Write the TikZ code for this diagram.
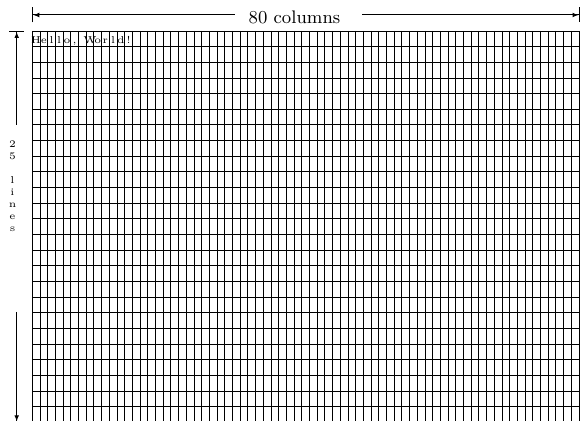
\documentclass[tikz,border=0pt]{standalone}
\usetikzlibrary{arrows.meta}
\begin{document}
\begin{tikzpicture}[x=0.5pt,y=-0.5pt,
  gridline/.style={line width=0.42pt,black},
  dimline/.style={line width=0.5pt,black},
  starttip/.style={{Bar[width=7.5pt]Latex[length=3pt,width=2.4pt]}-},
  endtip/.style={-{Latex[length=3pt,width=2.4pt]Bar[width=7.5pt]}},
  bigtext/.style={font=\fontsize{9.1}{11}\selectfont,inner sep=0pt},
  smalltext/.style={font=\fontsize{5}{6}\selectfont,inner sep=0pt}]
\useasboundingbox (0,0) rectangle (580,421);
% grid
\begin{scope}
  \clip (0,0) rectangle (580,421);
  \foreach \i in {0,...,80}
    \draw[gridline] ({32.3+7.7*\i},31) -- ({32.3+7.7*\i},422.3);
  \foreach \j in {0,...,25}
    \draw[gridline] (32.3,{31+15.65*\j}) -- (648.3,{31+15.65*\j});
\end{scope}
% text in first row
\foreach \ch [count=\i from 0] in {H,e,l,l,o,{,},{},W,o,r,l,d,!}
  \node[smalltext,anchor=base] (c\i) at ({32.3+7.7*(\i+0.5)},44) {\ch};
% top dimension
\coordinate (tl) at (32.3,15);
\coordinate (tr) at (579.5,15);
\coordinate (tgl) at (235,15);
\coordinate (tgr) at (362,15);
\node[bigtext,anchor=base] (cols) at (294.5,23.3) {80 columns};
\draw[dimline,starttip] (tl) -- (tgl);
\draw[dimline,endtip] (tgr) -- (tr);
% left dimension
\coordinate (lt) at (16.7,31);
\coordinate (lb) at (16.7,422.3);
\coordinate (lgt) at (16.7,125);
\coordinate (lgb) at (16.7,312);
\node[smalltext,align=center,anchor=north] (lines) at (12.5,140.5) {2\\5\\\mbox{}\\l\\i\\n\\e\\s};
\draw[dimline,starttip] (lt) -- (lgt);
\draw[dimline,endtip] (lgb) -- (lb);
\end{tikzpicture}
\end{document}
